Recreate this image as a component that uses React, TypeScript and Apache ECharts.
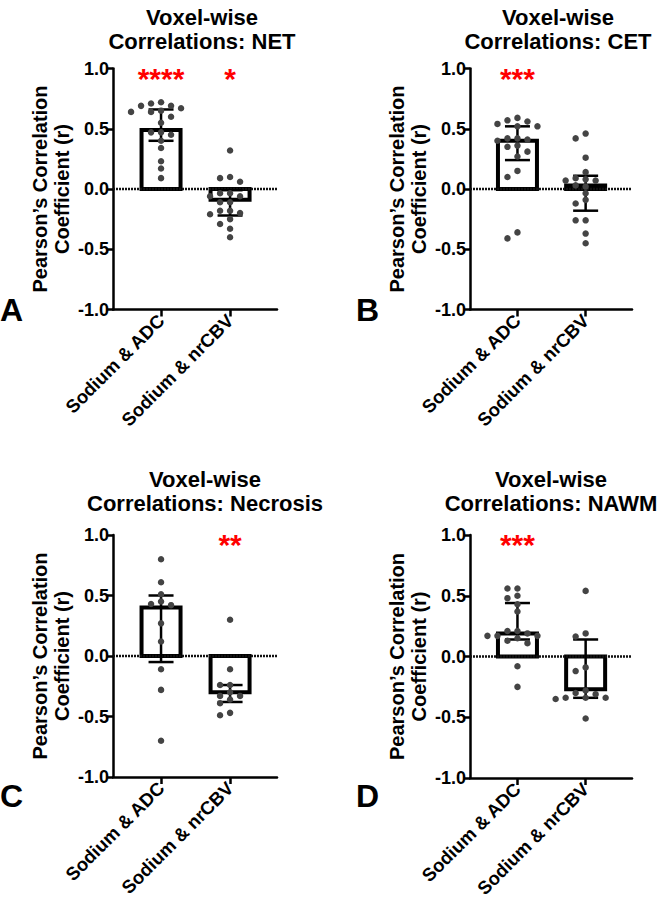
import { useEffect, useRef } from 'react';
import * as echarts from 'echarts';

const categories = ['Sodium & ADC', 'Sodium & nrCBV'];
const panelTitles = [
  'Voxel-wise\nCorrelations: NET',
  'Voxel-wise\nCorrelations: CET',
  'Voxel-wise\nCorrelations: Necrosis',
  'Voxel-wise\nCorrelations: NAWM',
];
const panelLetters = ['A', 'B', 'C', 'D'];
const yAxisName = 'Pearson\u2019s Correlation\nCoefficient (r)';

// significance stars per panel: [ADC, nrCBV]
const starsNET = ['****', '*'];
const starsCET = ['***', ''];
const starsNecrosis = ['', '**'];
const starsNAWM = ['***', ''];

// bar heights (median) and error bars (interquartile range): [ADC, nrCBV]
const medianNET = [0.49, -0.09];
const lowNET = [0.40, -0.22];
const highNET = [0.66, -0.01];
const medianCET = [0.40, 0.03];
const lowCET = [0.24, -0.18];
const highCET = [0.52, 0.11];
const medianNecrosis = [0.40, -0.30];
const lowNecrosis = [-0.05, -0.38];
const highNecrosis = [0.50, -0.24];
const medianNAWM = [0.19, -0.27];
const lowNAWM = [0.14, -0.34];
const highNAWM = [0.44, 0.14];

// individual patient correlations
const netAdc = [0.72, 0.71, 0.69, 0.69, 0.67, 0.65, 0.64, 0.64, 0.60, 0.55, 0.47, 0.47, 0.45, 0.40, 0.34, 0.23, 0.17, 0.09];
const netNrcbv = [0.32, 0.10, 0.09, 0.06, -0.035, -0.035, -0.06, -0.06, -0.11, -0.11, -0.18, -0.18, -0.20, -0.21, -0.25, -0.29, -0.33, -0.40];
const cetAdc = [0.59, 0.57, 0.56, 0.54, 0.52, 0.52, 0.42, 0.42, 0.41, 0.40, 0.36, 0.35, 0.31, 0.27, 0.15, 0.10, -0.36, -0.41];
const cetNrcbv = [0.46, 0.42, 0.26, 0.14, 0.09, 0.08, 0.07, 0.07, 0.03, 0.02, -0.035, -0.09, -0.12, -0.26, -0.26, -0.37, -0.45];
const necAdc = [0.80, 0.61, 0.51, 0.45, 0.43, 0.42, 0.27, 0.12, -0.11, -0.28, -0.70];
const necNrcbv = [0.30, -0.11, -0.24, -0.24, -0.30, -0.33, -0.33, -0.36, -0.39, -0.47, -0.49];
const nawmAdc = [0.56, 0.56, 0.50, 0.48, 0.43, 0.37, 0.21, 0.21, 0.19, 0.17, 0.17, 0.17, 0.15, 0.13, 0.11, -0.08, -0.25];
const nawmNrcbv = [0.54, 0.19, 0.165, -0.09, -0.12, -0.28, -0.30, -0.31, -0.34, -0.34, -0.34, -0.35, -0.51];

const panels = [
  { stars: starsNET, median: medianNET, low: lowNET, high: highNET, dots: [netAdc, netNrcbv] },
  { stars: starsCET, median: medianCET, low: lowCET, high: highCET, dots: [cetAdc, cetNrcbv] },
  { stars: starsNecrosis, median: medianNecrosis, low: lowNecrosis, high: highNecrosis, dots: [necAdc, necNrcbv] },
  { stars: starsNAWM, median: medianNAWM, low: lowNAWM, high: highNAWM, dots: [nawmAdc, nawmNrcbv] },
];

const FONT = '"Liberation Sans", Arial, Helvetica, sans-serif';
const X_MIN = 0.304;
const X_MAX = 2.68;
const STAR_Y = 0.92;

const grids = [
  { left: 113, top: 68.5, width: 164, height: 241 },
  { left: 470, top: 68.5, width: 162, height: 241 },
  { left: 113, top: 535, width: 164, height: 242 },
  { left: 470, top: 535, width: 162, height: 243 },
];
const titlePos = [
  { x: 197, y: 0 },
  { x: 553, y: 0 },
  { x: 200, y: 462 },
  { x: 546, y: 462 },
];
const letterPos = [
  { x: 0, y: 310 },
  { x: 356, y: 310 },
  { x: 0, y: 796 },
  { x: 356, y: 796 },
];

function swarm(values: number[], center: number, pxPerY: number, pxPerX: number) {
  const order = values.map((_, i) => i).sort((a, b) => values[b] - values[a]);
  const placed: { dx: number; py: number }[] = [];
  const out: number[][] = [];
  const cands = [0, -10, 10, -20, 20, -30, 30, -40, 40];
  for (const i of order) {
    const py = values[i] * pxPerY;
    let dx = 0;
    for (const c of cands) {
      if (!placed.some((p) => Math.abs(p.dx - c) < 6 && Math.abs(p.py - py) < 6.5)) {
        dx = c;
        break;
      }
    }
    placed.push({ dx, py });
    out.push([center + dx / pxPerX, values[i]]);
  }
  return out;
}

export default function App() {
  const ref = useRef<HTMLDivElement>(null);
  useEffect(() => {
    if (!ref.current) return;
    const chart = echarts.init(ref.current, null, { renderer: 'svg' });
    const grid: any[] = [];
    const xAxis: any[] = [];
    const yAxis: any[] = [];
    const series: any[] = [];
    const title: any[] = [];
    const graphic: any[] = [];

    panels.forEach((p, i) => {
      const g = grids[i];
      grid.push({ ...g, containLabel: false });
      xAxis.push({
        gridIndex: i,
        type: 'value',
        min: X_MIN,
        max: X_MAX,
        position: 'bottom',
        axisLine: { show: true, onZero: false, lineStyle: { color: '#000', width: 2.5 } },
        axisTick: { show: true, customValues: [1, 2], length: 7, lineStyle: { color: '#000', width: 2.5 } },
        axisLabel: {
          show: true,
          customValues: [1, 2],
          rotate: 45,
          margin: 8,
          color: '#000',
          fontSize: 18.5,
          fontWeight: 'bold',
          fontFamily: FONT,
          formatter: (v: number) => categories[Math.round(v) - 1] ?? '',
        },
        splitLine: { show: false },
      });
      yAxis.push({
        gridIndex: i,
        type: 'value',
        min: -1,
        max: 1,
        interval: 0.5,
        axisLine: { show: true, onZero: false, lineStyle: { color: '#000', width: 2.5 } },
        axisTick: { show: true, length: 6, lineStyle: { color: '#000', width: 2.5 } },
        axisLabel: {
          color: '#000',
          fontSize: 18,
          fontWeight: 'bold',
          fontFamily: FONT,
          margin: 4,
          formatter: (v: number) => v.toFixed(1),
        },
        splitLine: { show: false },
        name: yAxisName,
        nameLocation: 'middle',
        nameGap: 40,
        nameRotate: 90,
        nameTextStyle: { color: '#000', fontSize: 20, fontWeight: 'bold', fontFamily: FONT, lineHeight: 22 },
      });

      const pxPerX = g.width / (X_MAX - X_MIN);
      const pxPerY = g.height / 2;

      // bars
      series.push({
        type: 'custom',
        xAxisIndex: i,
        yAxisIndex: i,
        z: 2,
        silent: true,
        data: p.median.map((m, k) => [k + 1, m]),
        renderItem: (_: any, api: any) => {
          const x = api.value(0);
          const v = api.value(1);
          const p0 = api.coord([x, 0]);
          const p1 = api.coord([x, v]);
          const hw = 19.5;
          return {
            type: 'rect',
            shape: { x: p0[0] - hw, y: Math.min(p0[1], p1[1]), width: hw * 2, height: Math.abs(p1[1] - p0[1]) },
            style: { fill: '#fff', stroke: '#000', lineWidth: 4 },
          };
        },
      });
      // zero line
      series.push({
        type: 'custom',
        xAxisIndex: i,
        yAxisIndex: i,
        z: 3,
        silent: true,
        data: [[X_MIN, 0, X_MAX]],
        renderItem: (_: any, api: any) => {
          const a = api.coord([api.value(0), 0]);
          const b = api.coord([api.value(2), 0]);
          return {
            type: 'line',
            shape: { x1: a[0], y1: a[1], x2: b[0], y2: b[1] },
            style: { stroke: '#111', lineWidth: 2.5, lineDash: [2, 1] },
          };
        },
      });
      // error bars
      series.push({
        type: 'custom',
        xAxisIndex: i,
        yAxisIndex: i,
        z: 4,
        silent: true,
        data: p.median.map((_, k) => [k + 1, p.low[k], p.high[k]]),
        renderItem: (_: any, api: any) => {
          const x = api.value(0);
          const lo = api.coord([x, api.value(1)]);
          const hi = api.coord([x, api.value(2)]);
          const cw = 12.5;
          const st = { stroke: '#000', lineWidth: 2.5 };
          return {
            type: 'group',
            children: [
              { type: 'line', shape: { x1: lo[0], y1: lo[1], x2: hi[0], y2: hi[1] }, style: st },
              { type: 'line', shape: { x1: lo[0] - cw, y1: lo[1], x2: lo[0] + cw, y2: lo[1] }, style: st },
              { type: 'line', shape: { x1: hi[0] - cw, y1: hi[1], x2: hi[0] + cw, y2: hi[1] }, style: st },
            ],
          };
        },
      });
      // dots
      p.dots.forEach((vals, k) => {
        series.push({
          type: 'scatter',
          xAxisIndex: i,
          yAxisIndex: i,
          z: 5,
          silent: true,
          symbol: 'circle',
          symbolSize: 6.5,
          itemStyle: { color: '#444', opacity: 1 },
          data: swarm(vals, k + 1, pxPerY, pxPerX),
        });
      });
      // significance stars
      series.push({
        type: 'scatter',
        xAxisIndex: i,
        yAxisIndex: i,
        z: 6,
        silent: true,
        symbolSize: 0,
        itemStyle: { opacity: 1 },
        data: p.stars.map((s, k) => [k + 1, STAR_Y, s]),
        label: {
          show: true,
          position: 'inside',
          formatter: (d: any) => d.data[2],
          color: '#ff0000',
          opacity: 1,
          fontSize: 30,
          fontWeight: 'bold',
          fontFamily: FONT,
        },
      });

      title.push({
        text: panelTitles[i],
        left: titlePos[i].x,
        top: titlePos[i].y,
        textAlign: 'center',
        textStyle: { color: '#000', fontSize: 22, fontWeight: 'bold', fontFamily: FONT, lineHeight: 24 },
      });
      graphic.push({
        type: 'text',
        x: letterPos[i].x,
        y: letterPos[i].y,
        style: {
          text: panelLetters[i],
          fill: '#000',
          font: `bold 32px ${FONT}`,
          textVerticalAlign: 'middle',
          verticalAlign: 'middle',
        },
      });
    });

    chart.setOption({
      animation: false,
      backgroundColor: '#fff',
      title,
      grid,
      xAxis,
      yAxis,
      series,
      graphic,
    });
    return () => chart.dispose();
  }, []);
  return <div ref={ref} style={{ position: 'absolute', left: 0, top: 0, width: 662, height: 905 }} />;
}
